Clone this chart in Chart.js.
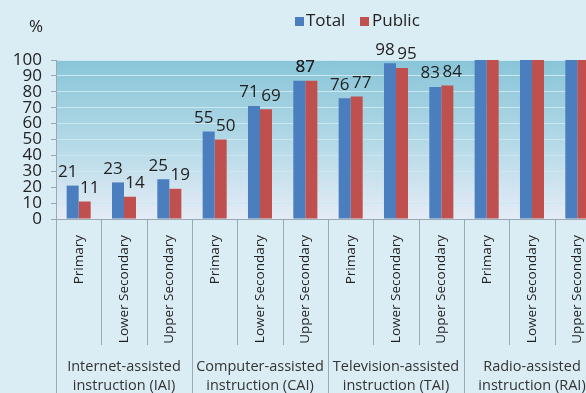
<!DOCTYPE html>
<html>
<head>
<meta charset="utf-8">
<script src="https://cdn.jsdelivr.net/npm/chart.js@4"></script>
<style>
  html, body { margin: 0; padding: 0; overflow: hidden; background: #dbedf4; }
  canvas { display: block; }
</style>
</head>
<body>
<canvas id="grafico" width="604" height="393"></canvas>
<script>
// Niveles educativos (eje x) y grupos de modalidad
const categorias = [
    'Primary', 'Lower Secondary', 'Upper Secondary',
    'Primary', 'Lower Secondary', 'Upper Secondary',
    'Primary', 'Lower Secondary', 'Upper Secondary',
    'Primary', 'Lower Secondary', 'Upper Secondary'
];
const grupos = [
    ['Internet-assisted', 'instruction (IAI)'],
    ['Computer-assisted', 'instruction (CAI)'],
    ['Television-assisted', 'instruction (TAI)'],
    ['Radio-assisted', 'instruction (RAI)']
];
const valoresTotal   = [21, 23, 25, 55, 71, 87, 76, 98, 83, 100, 100, 100];
const valoresPublico = [11, 14, 19, 50, 69, 87, 77, 95, 84, 100, 100, 100];
// las barras de radio no llevan etiqueta de valor
const mostrarEtiqueta = [true, true, true, true, true, true, true, true, true, false, false, false];
const ticksY = [0, 10, 20, 30, 40, 50, 60, 70, 80, 90, 100];
const series = ['Total', 'Public'];

const azul = '#4a7ebf';
const rojo = '#c0504d';
const fuente = '"Open Sans", "Noto Sans", sans-serif';

// Dibuja fondo del área, etiquetas, separadores y leyenda
const extras = {
    id: 'extras',
    beforeDraw(chart) {
        const { ctx, chartArea: a } = chart;
        const grad = ctx.createLinearGradient(0, a.top, 0, a.bottom);
        grad.addColorStop(0, '#88c5d8');
        grad.addColorStop(0.5, '#b2d8e6');
        grad.addColorStop(1, '#e4ecf6');
        ctx.save();
        ctx.fillStyle = grad;
        ctx.fillRect(a.left, a.top, a.right - a.left, a.bottom - a.top);
        ctx.restore();
    },
    afterDatasetsDraw(chart) {
        const ctx = chart.ctx;
        const xs = chart.scales.x;
        ctx.save();
        ctx.font = '17px ' + fuente;
        ctx.fillStyle = '#222';
        ctx.textAlign = 'center';
        ctx.textBaseline = 'bottom';
        chart.data.datasets.forEach((ds, d) => {
            const meta = chart.getDatasetMeta(d);
            meta.data.forEach((bar, i) => {
                if (!mostrarEtiqueta[i]) return;
                let x = bar.x + (d === 0 ? -5 : 5);
                // si ambos valores coinciden, las etiquetas quedan encima del par
                if (valoresTotal[i] === valoresPublico[i]) x = xs.getPixelForValue(i);
                ctx.fillText(ds.data[i], x, bar.y - 5);
            });
        });
        ctx.restore();
    },
    afterDraw(chart) {
        const { ctx, chartArea: a } = chart;
        const xs = chart.scales.x;
        const ancho = xs.getPixelForValue(1) - xs.getPixelForValue(0);
        ctx.save();
        ctx.strokeStyle = '#9aaab4';
        ctx.lineWidth = 1;
        for (let i = 0; i <= categorias.length; i++) {
            const x = Math.round(xs.getPixelForValue(0) - ancho / 2 + i * ancho) + 0.5;
            const y2 = i % 3 === 0 ? chart.height : a.bottom + 126;
            ctx.beginPath();
            ctx.moveTo(x, a.bottom);
            ctx.lineTo(x, y2);
            ctx.stroke();
        }
        // nombres de los grupos
        ctx.font = '14.5px ' + fuente;
        ctx.fillStyle = '#333';
        ctx.textAlign = 'center';
        ctx.textBaseline = 'middle';
        grupos.forEach((g, k) => {
            const cx = xs.getPixelForValue(k * 3 + 1);
            ctx.fillText(g[0], cx, 367);
            ctx.fillText(g[1], cx, 386);
        });
        // unidad del eje y
        ctx.font = '17px ' + fuente;
        ctx.fillStyle = '#222';
        ctx.fillText('%', 36, 27);
        // leyenda
        ctx.font = '17px ' + fuente;
        ctx.textAlign = 'left';
        ctx.fillStyle = azul;
        ctx.fillRect(295, 17, 9, 9);
        ctx.fillStyle = rojo;
        ctx.fillRect(360, 17, 9, 9);
        ctx.fillStyle = '#222';
        ctx.fillText(series[0], 306, 21);
        ctx.fillText(series[1], 372, 21);
        ctx.restore();
    }
};

let ctx = document.getElementById('grafico').getContext('2d');
let graficoChart = new Chart(ctx, {
    type: 'bar',
    data: {
        labels: categorias,
        datasets: [{
            label: series[0],
            data: valoresTotal,
            backgroundColor: azul,
            categoryPercentage: 0.53,
            barPercentage: 1
        }, {
            label: series[1],
            data: valoresPublico,
            backgroundColor: rojo,
            categoryPercentage: 0.53,
            barPercentage: 1
        }]
    },
    options: {
        responsive: false,
        animation: false,
        devicePixelRatio: 1,
        layout: { padding: { top: 60, right: 4, bottom: 0, left: 0 } },
        plugins: {
            legend: { display: false },
            tooltip: { enabled: false }
        },
        scales: {
            x: {
                grid: { display: false },
                border: { display: true, color: '#9aaab4' },
                ticks: {
                    minRotation: 90,
                    maxRotation: 90,
                    padding: 8,
                    color: '#222',
                    font: { family: fuente, size: 13.5 }
                },
                afterFit: s => { s.height = 174; }
            },
            y: {
                min: 0,
                max: 100,
                afterBuildTicks: s => { s.ticks = ticksY.map(v => ({ value: v })); },
                grid: {
                    color: '#cbe8f1',
                    tickColor: '#9aaab4',
                    tickLength: 5
                },
                border: { color: '#9aaab4' },
                ticks: {
                    autoSkip: false,
                    padding: 9,
                    color: '#222',
                    font: { family: fuente, size: 17 }
                },
                afterFit: s => { s.width = 56; }
            }
        }
    },
    plugins: [extras]
});
</script>
</body>
</html>
